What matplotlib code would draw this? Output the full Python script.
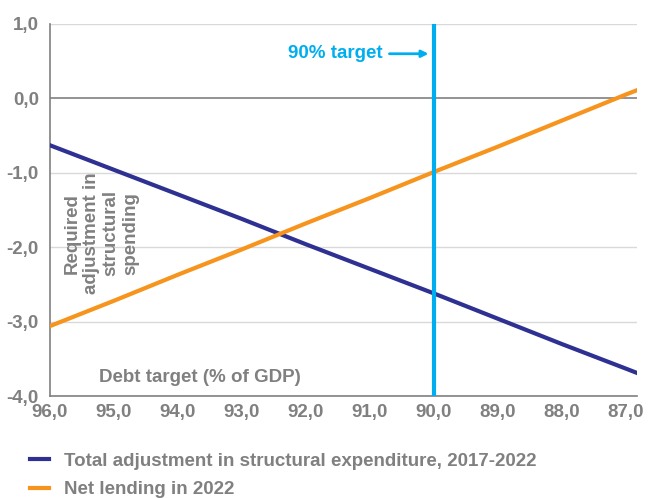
import matplotlib
matplotlib.use('Agg')
import matplotlib.pyplot as plt

# debt target (% of GDP) and the two scenario series
debt_target = [96.0, 95.0, 94.0, 93.0, 92.0, 91.0, 90.0, 89.0, 88.0, 87.0, 86.82]
adjustment = [-0.63, -0.96, -1.29, -1.62, -1.96, -2.29, -2.62, -2.96, -3.30, -3.63, -3.69]
net_lending = [-3.06, -2.72, -2.37, -2.03, -1.68, -1.34, -0.99, -0.65, -0.30, 0.05, 0.11]

x_ticks = [96, 95, 94, 93, 92, 91, 90, 89, 88, 87]
y_ticks = [1, 0, -1, -2, -3, -4]
target = 90.0

series_labels = ['Total adjustment in structural expenditure, 2017-2022',
                 'Net lending in 2022']

NAVY = '#2E3192'
ORANGE = '#F7941D'
CYAN = '#00AEEF'
GREY = '#808080'

plt.rcParams['font.family'] = ['Liberation Sans', 'DejaVu Sans']
plt.rcParams['font.weight'] = 'bold'

fig = plt.figure(figsize=(6.49, 4.98), dpi=100)
ax = fig.add_axes([50 / 649, 102 / 498, 587 / 649, 372 / 498])

# gridlines
for y in y_ticks:
    ax.axhline(y, color=GREY if y == 0 else '#D9D9D9', lw=1.2 if y == 0 else 1.0, zorder=1)

l1, = ax.plot(debt_target, adjustment, color=NAVY, lw=3, zorder=3)
l2, = ax.plot(debt_target, net_lending, color=ORANGE, lw=3, zorder=3)
ax.axvline(target, color=CYAN, lw=3, zorder=4)

ax.set_xlim(96.0, 86.82)
ax.set_ylim(-4, 1)
ax.set_xticks(x_ticks)
ax.set_xticklabels([f'{v:.1f}'.replace('.', ',') for v in x_ticks])
ax.set_yticks(y_ticks)
ax.set_yticklabels([f'{v:.1f}'.replace('.', ',') for v in y_ticks])
ax.tick_params(length=0, labelsize=13.5, labelcolor=GREY)
ax.tick_params(axis='x', pad=6)
ax.tick_params(axis='y', pad=8)
for lab in ax.get_xticklabels() + ax.get_yticklabels():
    lab.set_fontweight('bold')

for side in ['top', 'right']:
    ax.spines[side].set_visible(False)
for side in ['left', 'bottom']:
    ax.spines[side].set_color(GREY)
    ax.spines[side].set_linewidth(1.2)

# annotations
ax.annotate('90% target', xy=(90.08, 0.6), xytext=(90.8, 0.6),
            color=CYAN, fontsize=13.5, fontweight='bold', ha='right', va='center',
            arrowprops=dict(arrowstyle='-|>', color=CYAN, lw=2, mutation_scale=10,
                            shrinkA=3, shrinkB=0))
ax.text(95.23, -3.75, 'Debt target (% of GDP)', color=GREY, fontsize=13.5,
        fontweight='bold', ha='left', va='center')
ax.text(95.2, -1.81, 'Required\nadjustment in\nstructural\nspending', color=GREY,
        fontsize=13.5, fontweight='bold', rotation=90, ha='center', va='center',
        multialignment='center', linespacing=1.2)

fig.legend([l1, l2], series_labels, loc='upper left', bbox_to_anchor=(0.02, 0.125),
           frameon=False, handlelength=1.0, handletextpad=0.8, labelspacing=0.6,
           prop={'size': 13.5, 'weight': 'bold'}, labelcolor=GREY)

fig.savefig('out.png', dpi=100)
